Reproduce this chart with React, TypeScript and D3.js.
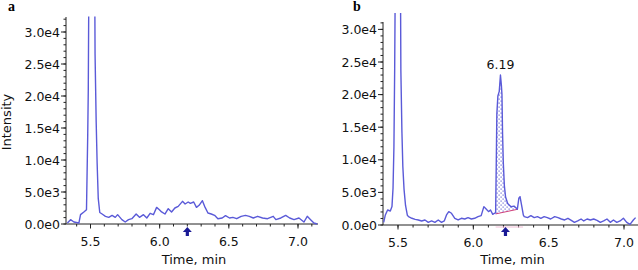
import React from "react";
import * as d3 from "d3";

// ---------- data ----------
const timeA = [5.333,5.356,5.380,5.416,5.428,5.452,5.471,5.480,5.484,5.490,5.510,5.529,5.533,5.541,5.548,5.556,5.567,5.584,5.608,5.632,5.656,5.679,5.696,5.727,5.751,5.775,5.799,5.830,5.854,5.883,5.907,5.931,5.955,5.978,5.998,6.014,6.038,6.062,6.086,6.110,6.134,6.165,6.184,6.206,6.222,6.246,6.266,6.285,6.309,6.325,6.349,6.373,6.397,6.421,6.452,6.476,6.505,6.529,6.557,6.589,6.620,6.648,6.677,6.708,6.744,6.780,6.821,6.840,6.876,6.911,6.940,6.971,7.007,7.043,7.067,7.091,7.115,7.139];
const intensityA = [150,680,310,150,1460,1880,2240,14000,21000,45000,70000,45000,26500,16000,9500,4000,1800,1560,1200,1040,1350,1040,1460,680,310,680,830,1560,1040,1460,940,1670,1460,2600,2240,1880,1560,2400,1880,2500,2760,3540,3130,3440,3230,3440,2600,2920,3650,2760,1720,1560,1350,830,940,1300,940,1040,830,1200,1350,1200,940,1200,940,830,1200,680,940,1350,940,680,940,310,1200,680,150,0];

const timeB = [5.405,5.416,5.431,5.449,5.460,5.467,5.473,5.478,5.484,5.500,5.515,5.519,5.526,5.532,5.540,5.550,5.562,5.570,5.592,5.614,5.635,5.657,5.679,5.701,5.723,5.745,5.767,5.789,5.807,5.822,5.837,5.855,5.877,5.899,5.921,5.943,5.965,5.987,6.009,6.031,6.052,6.070,6.085,6.101,6.114,6.129,6.140,6.148,6.152,6.156,6.163,6.172,6.180,6.186,6.190,6.194,6.199,6.206,6.214,6.228,6.250,6.270,6.292,6.302,6.310,6.322,6.332,6.338,6.360,6.382,6.404,6.426,6.448,6.470,6.491,6.513,6.540,6.562,6.584,6.606,6.628,6.650,6.671,6.693,6.715,6.733,6.755,6.777,6.799,6.821,6.843,6.865,6.887,6.909,6.930,6.952,6.974,6.996,7.018,7.040,7.062,7.077];
const intensityB = [410,1540,2300,2150,2820,5640,12000,24000,45000,70000,45000,23700,14300,9000,5500,3000,1500,1280,1030,870,770,620,770,410,620,410,770,410,620,1540,2050,1800,1030,770,1030,920,1130,920,1030,1280,1440,2820,2460,2050,2300,1640,1800,1850,9000,17000,19800,20500,23000,21500,20000,14000,9500,6000,4300,3300,2800,2900,2400,4100,4350,2800,1500,1280,1130,1440,1130,1280,1030,1280,1130,920,1280,1130,920,770,1030,720,410,620,920,620,920,770,920,720,410,620,920,410,770,410,620,1030,410,100,770,1130];

const peakLabel = "6.19";
const peakTime = 6.18;
const peakValue = 23000;
const baselineTimes = [6.148, 6.292];
const baselineValues = [1700, 2400];
const arrowTime = 6.2;

const xTickValues = [5.5, 6.0, 6.5, 7.0];
const xTickLabels = ["5.5", "6.0", "6.5", "7.0"];
const yTickValues = [0, 5000, 10000, 15000, 20000, 25000, 30000];
const yTickLabels = ["0.0e0", "5.0e3", "1.0e4", "1.5e4", "2.0e4", "2.5e4", "3.0e4"];
const xLabel = "Time, min";
const yLabel = "Intensity";

const LINE = "#5a5ad8";
const FONT = "DejaVu Sans, Verdana, sans-serif";

type P = { t: number; v: number };
const dataA: P[] = timeA.map((t, i) => ({ t, v: intensityA[i] }));
const dataB: P[] = timeB.map((t, i) => ({ t, v: intensityB[i] }));

function Axes({ x, y, x0, x1, yTop }: any) {
  const y0 = y(0);
  const minorX = d3.range(5.3, 7.2001, 0.1).filter((t) => x(t) >= x0 && x(t) <= x1);
  const minorY = d3.range(0, 33000, 1000).filter((v) => y(v) >= yTop);
  return (
    <g>
      <line x1={x0} x2={x1} y1={y0} y2={y0} stroke="#222" strokeWidth={1} />
      <line x1={x0} x2={x0} y1={yTop} y2={y0} stroke="#222" strokeWidth={1} />
      {minorX.map((t, i) => (
        <line key={"mx" + i} x1={x(t)} x2={x(t)} y1={y0} y2={y0 + 2.5} stroke="#222" />
      ))}
      {xTickValues.map((t, i) => (
        <g key={"xt" + i}>
          <line x1={x(t)} x2={x(t)} y1={y0} y2={y0 + 4.5} stroke="#222" />
          <text x={x(t)} y={y0 + 22} textAnchor="middle" fontFamily={FONT} fontSize={12.5} fill="#111">
            {xTickLabels[i]}
          </text>
        </g>
      ))}
      {minorY.map((v, i) => (
        <line key={"my" + i} x1={x0 - 2.5} x2={x0} y1={y(v)} y2={y(v)} stroke="#222" />
      ))}
      {yTickValues.map((v, i) => (
        <g key={"yt" + i}>
          <line x1={x0 - 5} x2={x0} y1={y(v)} y2={y(v)} stroke="#222" />
          <text x={x0 - 6} y={y(v)} dy="0.36em" textAnchor="end" fontFamily={FONT} fontSize={12.5} fill="#111">
            {yTickLabels[i]}
          </text>
        </g>
      ))}
      <text x={(x0 + x1) / 2 + 2} y={264} textAnchor="middle" fontFamily={FONT} fontSize={13} fill="#111">
        {xLabel}
      </text>
    </g>
  );
}

function Arrow({ cx }: { cx: number }) {
  const top = 227;
  const d = `M${cx},${top} L${cx + 4.5},${top + 5} L${cx + 1.6},${top + 5} L${cx + 1.6},${top + 9} L${cx - 1.6},${top + 9} L${cx - 1.6},${top + 5} L${cx - 4.5},${top + 5} Z`;
  return <path d={d} fill="#1a1a96" />;
}

export default function App() {
  const xA = d3.scaleLinear().domain([5.5, 7.0]).range([90.5, 298]);
  const yA = d3.scaleLinear().domain([0, 30000]).range([224, 32]);
  const xB = d3.scaleLinear().domain([5.5, 7.0]).range([398, 624]);
  const yB = d3.scaleLinear().domain([0, 30000]).range([225, 29.4]);

  const lineA = d3.line<P>().x((d) => xA(d.t)).y((d) => yA(d.v));
  const lineB = d3.line<P>().x((d) => xB(d.t)).y((d) => yB(d.v));

  const base = d3.scaleLinear().domain(baselineTimes).range(baselineValues);
  const fillPts = dataB.filter((d) => d.t >= baselineTimes[0] && d.t <= baselineTimes[1]);
  const area = d3
    .area<P>()
    .x((d) => xB(d.t))
    .y0((d) => yB(base(d.t)))
    .y1((d) => yB(d.v));

  return (
    <svg width={638} height={270} style={{ position: "absolute", left: 0, top: 0, background: "#fff" }}>
      <defs>
        <clipPath id="clipA">
          <rect x={66} y={16.5} width={252} height={210} />
        </clipPath>
        <clipPath id="clipB">
          <rect x={383} y={13} width={255} height={214} />
        </clipPath>
        <pattern id="dots" width={4} height={4} patternUnits="userSpaceOnUse">
          <rect width={4} height={4} fill="#fff" />
          <rect x={0.5} y={0.5} width={1.2} height={1.2} fill="#6a6ad4" />
          <rect x={2.5} y={2.5} width={1.2} height={1.2} fill="#6a6ad4" />
        </pattern>
      </defs>
      <rect width={638} height={270} fill="#fff" />

      {/* panel a */}
      <text x={8} y={11} fontFamily="Liberation Serif, Times New Roman, serif" fontWeight="bold" fontSize={14}>a</text>
      <text transform="translate(11,122) rotate(-90)" textAnchor="middle" fontFamily={FONT} fontSize={13} fill="#111">
        {yLabel}
      </text>
      <Axes x={xA} y={yA} x0={66} x1={318} yTop={17} />
      <g clipPath="url(#clipA)">
        <path d={lineA(dataA) || ""} fill="none" stroke={LINE} strokeWidth={1.4} strokeLinejoin="round" />
      </g>
      <Arrow cx={xA(arrowTime)} />

      {/* panel b */}
      <text x={353} y={11} fontFamily="Liberation Serif, Times New Roman, serif" fontWeight="bold" fontSize={14}>b</text>
      <Axes x={xB} y={yB} x0={383} x1={638} yTop={22} />
      <g clipPath="url(#clipB)">
        <path d={area(fillPts) || ""} fill="url(#dots)" stroke="none" />
        <line
          x1={xB(baselineTimes[0])}
          x2={xB(baselineTimes[1])}
          y1={yB(baselineValues[0])}
          y2={yB(baselineValues[1])}
          stroke="#d0407a"
          strokeWidth={1}
        />
        <path d={lineB(dataB) || ""} fill="none" stroke={LINE} strokeWidth={1.4} strokeLinejoin="round" />
      </g>
      <line x1={xB(baselineTimes[0])} x2={xB(6.33)} y1={227} y2={227} stroke="#f2c0d8" strokeWidth={1} />
      <text x={xB(peakTime)} y={yB(peakValue) - 6} textAnchor="middle" fontFamily={FONT} fontSize={12.5} fill="#111">
        {peakLabel}
      </text>
      <Arrow cx={xB(arrowTime) + 2} />
    </svg>
  );
}
